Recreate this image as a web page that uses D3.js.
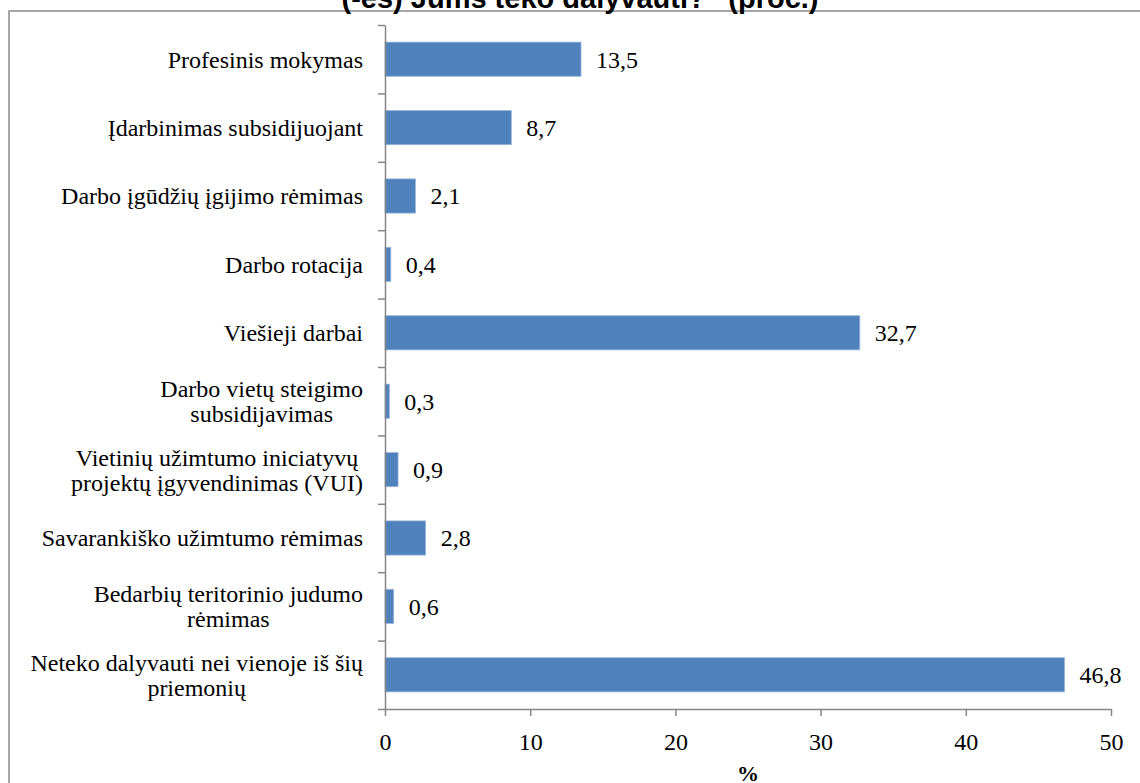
<!DOCTYPE html>
<html>
<head>
<meta charset="utf-8">
<script src="https://cdn.jsdelivr.net/npm/d3@7"></script>
<style>
  body { margin: 0; background: #fff; }
  svg { display: block; }
</style>
</head>
<body>
<svg id="chart" width="1140" height="783"></svg>
<script>
// Survey answers: share of respondents per active labour-market measure (%)
const categories = [
  "Profesinis mokymas",
  "Įdarbinimas subsidijuojant",
  "Darbo įgūdžių įgijimo rėmimas",
  "Darbo rotacija",
  "Viešieji darbai",
  "Darbo vietų steigimo\nsubsidijavimas",
  "Vietinių užimtumo iniciatyvų\nprojektų įgyvendinimas (VUI)",
  "Savarankiško užimtumo rėmimas",
  "Bedarbių teritorinio judumo\nrėmimas",
  "Neteko dalyvauti nei vienoje iš šių\npriemonių"
];
const values = [13.5, 8.7, 2.1, 0.4, 32.7, 0.3, 0.9, 2.8, 0.6, 46.8];
const xTicks = [0, 10, 20, 30, 40, 50];
const titleText = "(-ės) Jums teko dalyvauti?“ (proc.)";
const xAxisTitle = "%";

const W = 1140, H = 783;
const plot = { left: 385, right: 1111, top: 25, bottom: 709 };
const SERIF = '"Liberation Serif"';
const SANS = '"Liberation Sans"';
const FS = "24px";
const axisColor = "#868686";
const barColor = "#4F81BD";

const svg = d3.select("#chart");

// outer chart frame (runs past the right and bottom edges)
svg.append("rect")
  .attr("x", 9).attr("y", 11)
  .attr("width", W + 20).attr("height", H + 20)
  .attr("fill", "none")
  .attr("stroke", "#8a8a8a")
  .attr("stroke-width", 1.5);

// title, only its last line sits inside the view
svg.append("text")
  .attr("x", 580).attr("y", 8)
  .attr("text-anchor", "middle")
  .style("font-family", SANS)
  .style("font-weight", "bold")
  .style("font-size", "29px")
  .attr("fill", "#000")
  .text(titleText);

const x = d3.scaleLinear().domain([0, 50]).range([plot.left, plot.right]);
const y = d3.scaleBand()
  .domain(categories)
  .range([plot.top, plot.bottom])
  .paddingInner(0.5)
  .paddingOuter(0.25);

// category boundaries for the left axis ticks
const yEdges = d3.scaleLinear().domain([0, categories.length]).range([plot.top, plot.bottom]);

// bars
svg.append("g")
  .selectAll("rect")
  .data(values)
  .join("rect")
  .attr("x", x(0))
  .attr("y", (d, i) => y(categories[i]))
  .attr("width", d => x(d) - x(0))
  .attr("height", y.bandwidth())
  .attr("fill", barColor)
  .attr("stroke", "#9bb7dc")
  .attr("stroke-width", 0.8);

// value labels
svg.append("g")
  .selectAll("text")
  .data(values)
  .join("text")
  .attr("x", d => x(d) + 15)
  .attr("y", (d, i) => y(categories[i]) + y.bandwidth() / 2)
  .attr("dy", "0.35em")
  .style("font-family", SERIF)
  .style("font-size", FS)
  .attr("fill", "#000")
  .text(d => d3.format(".1f")(d).replace(".", ","));

// left axis: line with ticks at category boundaries
const gy = svg.append("g")
  .attr("transform", `translate(${plot.left},0)`)
  .call(d3.axisLeft(yEdges)
    .tickValues(d3.range(categories.length + 1))
    .tickSize(7)
    .tickSizeOuter(0)
    .tickFormat(""));
gy.select(".domain").attr("stroke", axisColor).attr("stroke-width", 1.5);
gy.selectAll(".tick line").attr("stroke", axisColor).attr("stroke-width", 1.5);

// category labels, wrapped lines centred on each other, block right-aligned
const labelRight = plot.left - 22;
const lineH = 25;
categories.forEach(cat => {
  const lines = cat.split("\n");
  const cy = y(cat) + y.bandwidth() / 2;
  const t = svg.append("text")
    .style("font-family", SERIF)
    .style("font-size", FS)
    .attr("fill", "#000")
    .attr("text-anchor", "middle");
  const spans = lines.map((ln, k) => t.append("tspan")
    .attr("y", cy + (k - (lines.length - 1) / 2) * lineH)
    .attr("dy", "0.35em")
    .text(ln));
  const widths = spans.map(s => s.node().getComputedTextLength());
  const maxW = d3.max(widths);
  spans.forEach(s => s.attr("x", labelRight - maxW / 2));
});

// bottom axis
const gx = svg.append("g")
  .attr("transform", `translate(0,${plot.bottom})`)
  .call(d3.axisBottom(x)
    .tickValues(xTicks)
    .tickSize(7)
    .tickSizeOuter(0)
    .tickPadding(17)
    .tickFormat(d3.format("d")));
gx.select(".domain").attr("stroke", axisColor).attr("stroke-width", 1.5);
gx.selectAll(".tick line").attr("stroke", axisColor).attr("stroke-width", 1.5);
gx.selectAll(".tick text")
  .style("font-family", SERIF)
  .style("font-size", FS)
  .attr("fill", "#000");

// axis title
svg.append("text")
  .attr("x", (plot.left + plot.right) / 2)
  .attr("y", 781)
  .attr("text-anchor", "middle")
  .style("font-family", SERIF)
  .style("font-weight", "bold")
  .style("font-size", "22px")
  .attr("fill", "#000")
  .text(xAxisTitle);
</script>
</body>
</html>
